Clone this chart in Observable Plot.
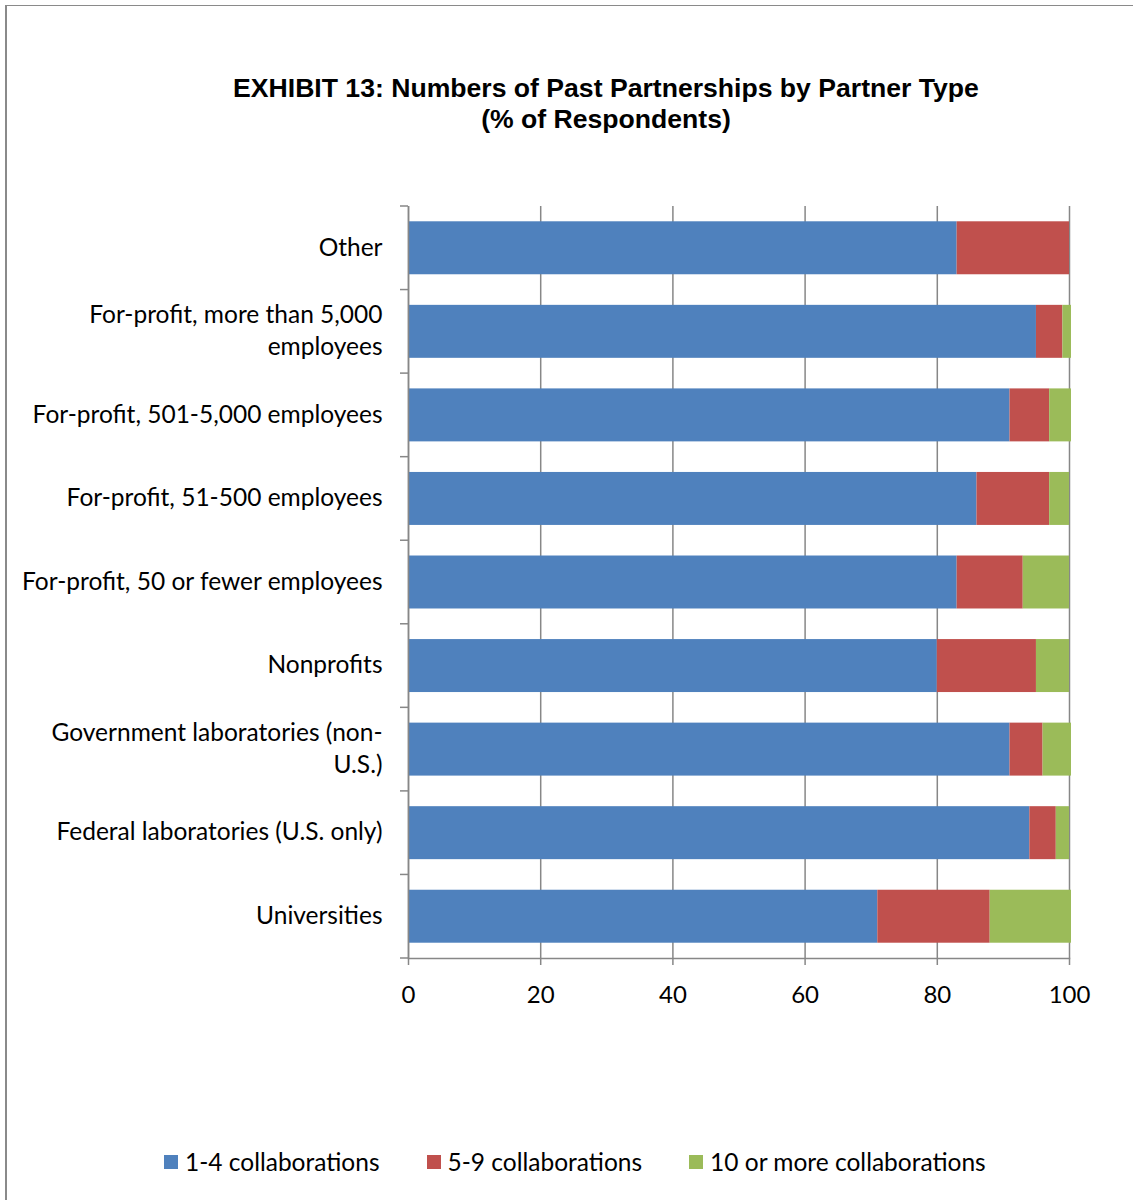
<!DOCTYPE html>
<html>
<head>
<meta charset="utf-8">
<script src="https://cdn.jsdelivr.net/npm/d3@7"></script>
<script src="https://cdn.jsdelivr.net/npm/@observablehq/plot@0.6"></script>
<style>
  html, body { margin: 0; padding: 0; background: #fff; }
  #page { position: relative; width: 1133px; height: 1200px; overflow: hidden; }
  #frame { position: absolute; left: 5px; top: 5px; right: -10px; bottom: -10px;
           border-left: 2px solid #8a8a8a; border-top: 1px solid #8a8a8a; }
  #title { position: absolute; left: 0; top: 73px; width: 1212px; text-align: center;
           font-family: "Liberation Sans", Arial, sans-serif; font-weight: bold;
           font-size: 26.6px; line-height: 31px; color: #000; }
  #chart { position: absolute; left: 0; top: 0; }
  #legend { position: absolute; left: 164px; top: 1147px; display: flex; gap: 47px;
            font-family: Lato, sans-serif; font-size: 24.5px; color: #000; align-items: center; }
  .item { display: flex; align-items: center; gap: 7px; }
  .sw { width: 14px; height: 14px; display: inline-block; }
</style>
</head>
<body>
<div id="page">
  <div id="frame"></div>
  <div id="chart"></div>
  <div id="title">EXHIBIT 13: Numbers of Past Partnerships by Partner Type<br>(% of Respondents)</div>
  <div id="legend"></div>
</div>
<script>
// ---- Data ----
const categories = [
  "Other",
  "For-profit, more than 5,000 employees",
  "For-profit, 501-5,000 employees",
  "For-profit, 51-500 employees",
  "For-profit, 50 or fewer employees",
  "Nonprofits",
  "Government laboratories (non-U.S.)",
  "Federal laboratories (U.S. only)",
  "Universities"
];
const tickLabels = [
  "Other",
  "For-profit, more than 5,000\nemployees",
  "For-profit, 501-5,000 employees",
  "For-profit, 51-500 employees",
  "For-profit, 50 or fewer employees",
  "Nonprofits",
  "Government laboratories (non-\nU.S.)",
  "Federal laboratories (U.S. only)",
  "Universities"
];
const series = ["1-4 collaborations", "5-9 collaborations", "10 or more collaborations"];
const ones  = [83, 95, 91, 86, 83, 80, 91, 94, 71];
const fives = [17, 4, 6, 11, 10, 15, 5, 4, 17];
const tens  = [0, 1.3, 3.3, 3, 7, 5, 4.3, 2, 12.3];
const colors = ["#4F81BD", "#C0504D", "#9BBB59"];
const xTicks = [0, 20, 40, 60, 80, 100];

const seriesValues = [ones, fives, tens];
const rows = [];
series.forEach((s, si) => {
  categories.forEach((c, ci) => {
    rows.push({category: c, series: s, value: seriesValues[si][ci]});
  });
});

const gridColor = "#878787";

const chart = Plot.plot({
  width: 1133,
  height: 1010,
  marginTop: 206,
  marginBottom: 52,
  marginLeft: 408,
  marginRight: 64,
  style: {fontFamily: "Lato, sans-serif", background: "transparent", color: "#000"},
  x: {domain: [0, 100], ticks: xTicks},
  y: {domain: categories, paddingInner: 0.366, paddingOuter: 0.183, round: false},
  color: {domain: series, range: colors},
  marks: [
    Plot.gridX(xTicks, {stroke: gridColor, strokeOpacity: 1, strokeWidth: 1.5}),
    Plot.barX(rows, Plot.stackX({x: "value", y: "category", fill: "series", order: series})),
    Plot.ruleX([0], {stroke: gridColor, strokeWidth: 1.5}),
    Plot.frame({anchor: "bottom", stroke: gridColor, strokeWidth: 1.5}),
    Plot.axisX({ticks: xTicks, tickSize: 7, tickPadding: 20, fontSize: 24, stroke: gridColor, strokeWidth: 1.5, strokeOpacity: 1, fill: "#000", label: null}),
    Plot.axisY({tickSize: 0, tickPadding: 26, fontSize: 24.5, lineHeight: 1.306, dy: -3, fill: "#000", label: null,
                tickFormat: d => tickLabels[categories.indexOf(d)]})
  ]
});

// category boundary tick marks (Excel style) derived from the y scale
const ys = chart.scale("y");
const step = ys.bandwidth / (1 - ys.paddingInner);
const half = step * ys.paddingInner / 2;
const bounds = categories.map(c => ys.apply(c) - half);
bounds.push(ys.apply(categories[categories.length - 1]) + ys.bandwidth + half);
const x0 = chart.scale("x").apply(0);
d3.select(chart).append("g")
  .selectAll("line").data(bounds).join("line")
  .attr("x1", x0 - 8).attr("x2", x0)
  .attr("y1", d => d).attr("y2", d => d)
  .attr("stroke", gridColor).attr("stroke-width", 1.5);

document.getElementById("chart").appendChild(chart);

// legend
const legend = d3.select("#legend");
series.forEach((s, i) => {
  const it = legend.append("div").attr("class", "item");
  it.append("span").attr("class", "sw").style("background", colors[i]);
  it.append("span").text(s);
});
</script>
</body>
</html>
